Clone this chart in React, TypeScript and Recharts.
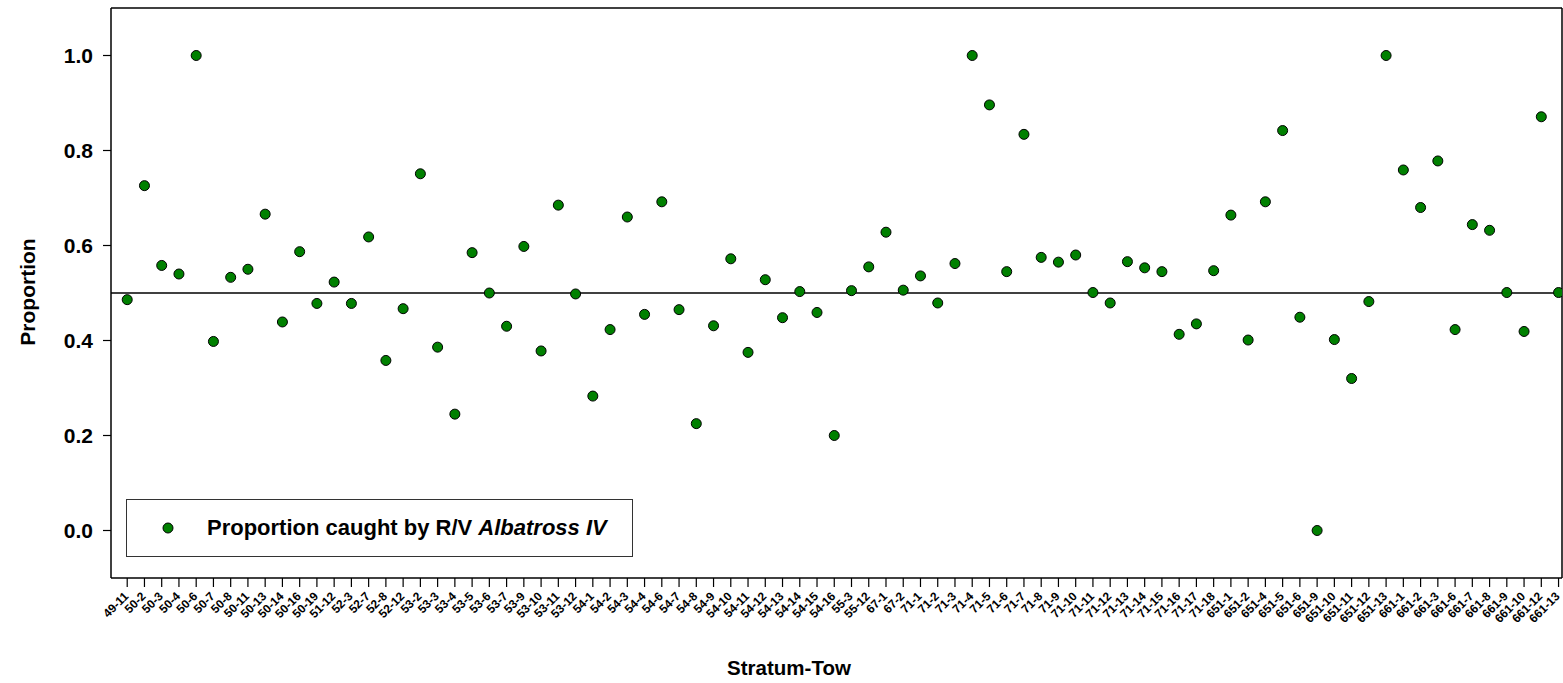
import {
  Legend,
  ReferenceLine,
  Scatter,
  ScatterChart,
  XAxis,
  YAxis,
} from "recharts";

const towLabels = [
  "49-11", "50-2", "50-3", "50-4", "50-6", "50-7", "50-8", "50-11", "50-13", "50-14",
  "50-16", "50-19", "51-12", "52-3", "52-7", "52-8", "52-12", "53-2", "53-3", "53-4",
  "53-5", "53-6", "53-7", "53-9", "53-10", "53-11", "53-12", "54-1", "54-2", "54-3",
  "54-4", "54-6", "54-7", "54-8", "54-9", "54-10", "54-11", "54-12", "54-13", "54-14",
  "54-15", "54-16", "55-3", "55-12", "67-1", "67-2", "71-1", "71-2", "71-3", "71-4",
  "71-5", "71-6", "71-7", "71-8", "71-9", "71-10", "71-11", "71-12", "71-13", "71-14",
  "71-15", "71-16", "71-17", "71-18", "651-1", "651-2", "651-4", "651-5", "651-6", "651-9",
  "651-10", "651-11", "651-12", "651-13", "661-1", "661-2", "661-3", "661-6", "661-7", "661-8",
  "661-9", "661-10", "661-12", "661-13",
];

const proportions = [
  0.486, 0.726, 0.558, 0.54, 1.0, 0.398, 0.533, 0.55, 0.666, 0.439, 0.587, 0.478, 0.523, 0.478,
  0.618, 0.358, 0.467, 0.751, 0.386, 0.245, 0.585, 0.5, 0.43, 0.598, 0.378, 0.685, 0.498, 0.283,
  0.423, 0.66, 0.455, 0.692, 0.465, 0.225, 0.431, 0.572, 0.375, 0.528, 0.448, 0.503, 0.459, 0.2,
  0.505, 0.555, 0.628, 0.506, 0.536, 0.479, 0.562, 1.0, 0.896, 0.545, 0.834, 0.575, 0.565, 0.58,
  0.501, 0.479, 0.566, 0.553, 0.545, 0.413, 0.435, 0.547, 0.664, 0.401, 0.692, 0.842, 0.449, 0.0,
  0.402, 0.32, 0.482, 1.0, 0.759, 0.68, 0.778, 0.423, 0.644, 0.632, 0.501, 0.419, 0.871, 0.501,
];

const yTicks = [0, 0.2, 0.4, 0.6, 0.8, 1.0];

const FONT = '"Liberation Sans", Arial, sans-serif';
const X_MIN = -0.94;
const X_MAX = 83.2;

const data = towLabels.map((label, i) => ({ i, label, p: proportions[i] }));

const Dot = (props: any) => {
  if (props.cx == null || props.cy == null) return null;
  return (
    <circle
      cx={props.cx}
      cy={props.cy}
      r={5}
      fill="#008000"
      stroke="#000"
      strokeWidth={1}
    />
  );
};

const XTick = ({ x, y, payload }: any) => {
  return (
    <g transform={`translate(${x + 2},${y + 8})`}>
      <text
        x={0}
        y={0}
        textAnchor="end"
        transform="rotate(-45)"
        fontFamily={FONT}
        fontWeight="bold"
        fontSize={12}
        fill="#000"
      >
        {towLabels[payload.value]}
      </text>
    </g>
  );
};

const LegendBox = () => (
  <div
    style={{
      width: 507,
      height: 58,
      border: "1.5px solid #333",
      background: "#fff",
      display: "flex",
      alignItems: "center",
      fontFamily: FONT,
      fontWeight: "bold",
      fontSize: 22,
      color: "#000",
      boxSizing: "border-box",
    }}
  >
    <svg width={80} height={20}>
      <circle cx={41} cy={10} r={5} fill="#008000" stroke="#000" strokeWidth={1} />
    </svg>
    <span style={{ whiteSpace: "nowrap" }}>
      Proportion caught by R/V <i>Albatross IV</i>
    </span>
  </div>
);

export default function App() {
  return (
    <div style={{ position: "absolute", left: 0, top: 0, background: "#fff" }}>
      <ScatterChart
        width={1563}
        height={683}
        margin={{ top: 8, right: 1, bottom: 0, left: 0 }}
      >
        <XAxis
          type="number"
          dataKey="i"
          domain={[X_MIN, X_MAX]}
          ticks={data.map((d) => d.i)}
          interval={0}
          allowDataOverflow
          height={105}
          tickSize={9}
          tick={<XTick />}
          axisLine={{ stroke: "#000", strokeWidth: 1.5 }}
          tickLine={{ stroke: "#000", strokeWidth: 1.2 }}
          label={(props: any) => (
            <text
              x={789}
              y={675}
              textAnchor="middle"
              fontFamily={FONT}
              fontWeight="bold"
              fontSize={20.5}
              fill="#000"
            >
              Stratum-Tow
            </text>
          )}
        />
        <YAxis
          type="number"
          dataKey="p"
          domain={[-0.1, 1.1]}
          ticks={yTicks}
          width={111}
          tickSize={8}
          tickMargin={10}
          tickFormatter={(v: number) => v.toFixed(1)}
          tick={{ fontFamily: FONT, fontWeight: "bold", fontSize: 21, fill: "#000" }}
          axisLine={{ stroke: "#000", strokeWidth: 1.5 }}
          tickLine={{ stroke: "#000", strokeWidth: 1.2 }}
          label={(props: any) => (
            <text
              x={0}
              y={0}
              transform="translate(35,292) rotate(-90)"
              textAnchor="middle"
              fontFamily={FONT}
              fontWeight="bold"
              fontSize={21}
              fill="#000"
            >
              Proportion
            </text>
          )}
        />
        <ReferenceLine y={1.1} stroke="#000" strokeWidth={1.5} />
        <ReferenceLine x={X_MAX} stroke="#000" strokeWidth={1.5} />
        <ReferenceLine y={0.5} stroke="#000" strokeWidth={1.5} />
        <Legend
          layout="vertical"
          align="center"
          verticalAlign="middle"
          content={<LegendBox />}
          wrapperStyle={{ left: 126, top: 499, width: 507, height: 58 }}
        />
        <Scatter
          name="Proportion caught by R/V Albatross IV"
          data={data}
          shape={<Dot />}
          isAnimationActive={false}
        />
      </ScatterChart>
    </div>
  );
}
